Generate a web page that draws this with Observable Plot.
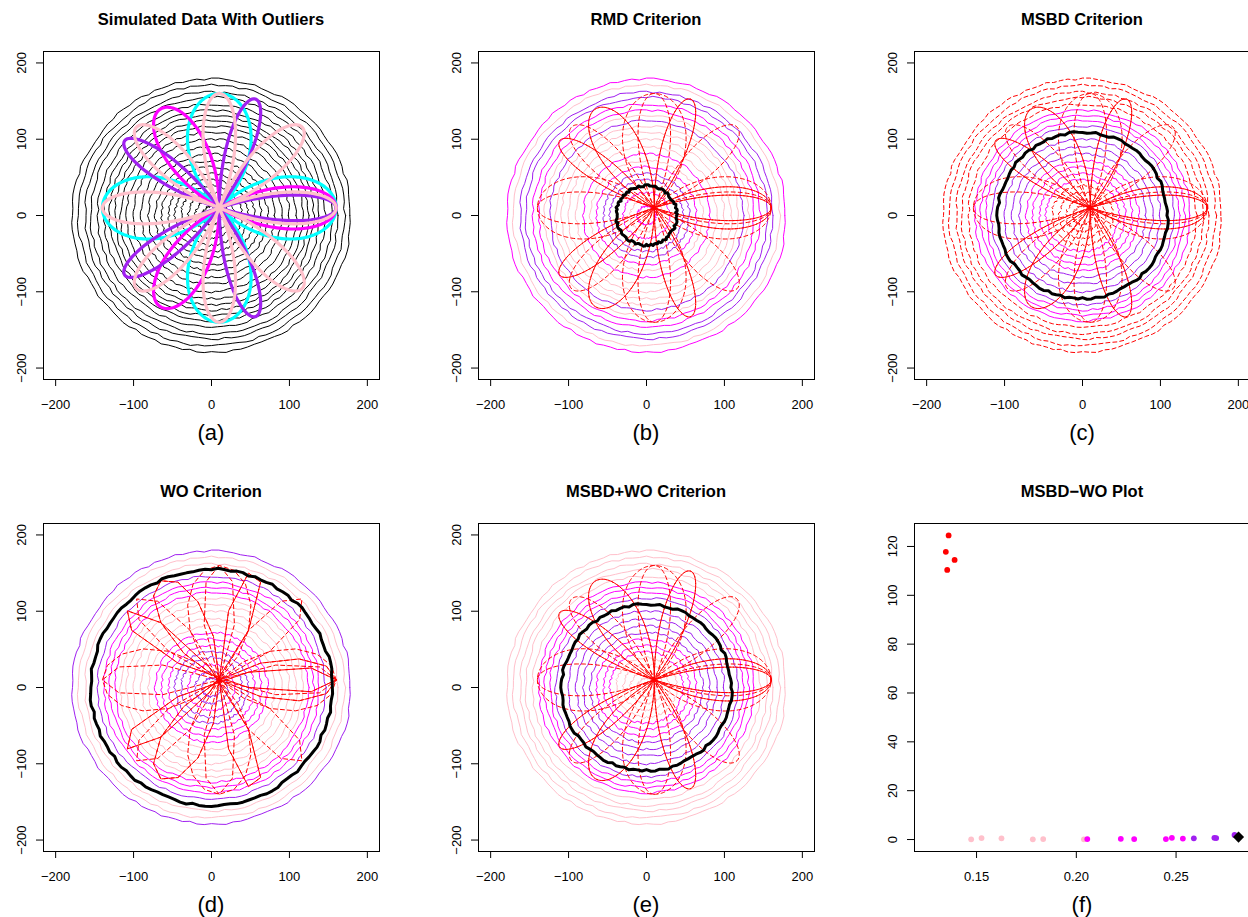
<!DOCTYPE html>
<html><head><meta charset="utf-8">
<script src="https://cdn.jsdelivr.net/npm/d3@7"></script>
<script src="https://cdn.jsdelivr.net/npm/@observablehq/plot@0.6"></script>
<style>
html,body{margin:0;padding:0;overflow:hidden;background:#fff}
#root{position:relative;width:1248px;height:917px;overflow:hidden;background:#fff;font-family:"Liberation Sans",Arial,Helvetica,sans-serif;color:#000}
.title{position:absolute;width:336px;text-align:center;font-weight:bold;font-size:16.5px;line-height:20px;white-space:nowrap}
.sub{position:absolute;width:336px;text-align:center;font-size:22px;line-height:26px}
.panel{position:absolute;width:436px;height:420px}
.panel svg{max-width:none !important;width:436px;height:420px;display:block}
</style></head><body><div id="root"></div>
<script>
// ---------------- data ----------------
// radii of the 21 wavy circles (inner -> outer)
const circleRadius = [12, 21, 30, 39, 47, 55, 64, 72, 81, 90, 100, 109, 117, 124, 131, 138, 146, 155, 162, 171, 179];
const circleCentre = [0, 0];
// small jitter of the circle outlines (units), read as a repeating pattern
const wiggle = [0.8, -1.2, 1.9, -0.4, 1.1, -2.0, 0.3, 1.6, -0.9, 2.0, -1.5, 0.2, 1.3, -0.7, -1.8, 0.9,
                1.9, -0.3, -1.1, 1.4, -2.1, 0.6, 1.0, -1.6, 0.4, 1.8, -0.8, -1.9, 1.2, 0.1, -1.4, 2.0,
                -0.5, 0.7, -2.0, 1.5, 0.0, -1.0, 1.7, -0.6, 2.1, -1.3, 0.5, -0.2, 1.6, -1.7, 0.9, -0.9];
// the four outlying rose curves
const roseColour = ["cyan", "magenta", "purple", "pink"];
const roseFreq = [2, 3, 5, 4];
const roseLength = [150, 150, 150, 150];
const roseCentre = [10, 10];

// colour of every circle (inner -> outer) in panels (b)-(e); "red" = flagged outlier, "black" = median
const colB = ["magenta","pink","magenta","black","purple","purple","magenta","pink","magenta","pink","pink",
              "pink","pink","purple","pink","magenta","magenta","purple","purple","pink","magenta"];
const colC = ["red","red","red","red","magenta","magenta","magenta","magenta","purple","purple","purple",
              "black","purple","magenta","magenta","magenta","red","red","red","red","red"];
const colD = ["purple","purple","magenta","purple","purple","magenta","magenta","magenta","pink","pink","pink",
              "pink","pink","magenta","magenta","magenta","purple","black","pink","pink","purple"];
const colE = ["pink","pink","pink","pink","magenta","magenta","magenta","purple","purple","purple","purple",
              "black","purple","magenta","magenta","magenta","pink","pink","pink","pink","pink"];

// panel (f): MSBD vs WO
const msbd = [0.1360, 0.1346, 0.1390, 0.1353,
              0.1473, 0.1525, 0.1625, 0.1782, 0.1834, 0.2038,
              0.2055, 0.2223, 0.2290, 0.2449, 0.2479, 0.2534,
              0.2589, 0.2692, 0.2701, 0.2793];
const wo   = [124.5, 117.8, 114.5, 110.4,
              0.1, 0.6, 0.5, 0.1, 0.2, 0.1,
              0.2, 0.3, 0.2, 0.2, 0.7, 0.4,
              0.5, 0.7, 0.6, 1.9];
const ptColour = ["red","red","red","red",
                  "pink","pink","pink","pink","pink","pink",
                  "magenta","magenta","magenta","magenta","magenta","magenta",
                  "purple","purple","purple","purple"];
const medianMSBD = [0.2813];
const medianWO = [1.0];

const curveTicks = [-200, -100, 0, 100, 200];
const fTicksX = [0.15, 0.20, 0.25];
const fTicksY = [0, 20, 40, 60, 80, 100, 120];
const titles = ["Simulated Data With Outliers", "RMD Criterion", "MSBD Criterion",
                "WO Criterion", "MSBD+WO Criterion", "MSBD\u2212WO Plot"];
const subLabels = ["(a)", "(b)", "(c)", "(d)", "(e)", "(f)"];

// R colour names -> hex
const rColour = {black: "#000000", red: "#FF0000", pink: "#FFC0CB", magenta: "#FF00FF", purple: "#A020F0", cyan: "#00FFFF"};

// ---------------- layout ----------------
const colX = [0, 435, 871], rowY = [0, 472];
const W = 436, H = 420, ML = 43, MR = 57, MT = 51, MB = 41;
const FONT = '"Liberation Sans", Arial, Helvetica, sans-serif';
const minus = s => String(s).replace("-", "\u2212");

// ---------------- geometry tables built from the arrays ----------------
function circleTable(i) {
  const n = 120, pts = [];
  for (let j = 0; j <= n; j++) {
    const t = 2 * Math.PI * j / n;
    const r = circleRadius[i] + 0.7 * wiggle[(((j % n) * 7) + 13 * i) % wiggle.length];
    pts.push({id: i, x: circleCentre[0] + r * Math.cos(t), y: circleCentre[1] + r * Math.sin(t)});
  }
  return pts;
}
function roseTable(k, n) {
  const pts = [];
  for (let j = 0; j <= n; j++) {
    const t = 2 * Math.PI * j / n;
    const r = roseLength[k] * Math.cos(roseFreq[k] * t);
    pts.push({id: "r" + k, x: roseCentre[0] + r * Math.cos(t), y: roseCentre[1] + r * Math.sin(t)});
  }
  return pts;
}
const allCircles = circleRadius.map((_, i) => circleTable(i));

function axisText(xt, yt, fmt) {
  return [
    Plot.text(xt, {x: d => d, text: d => fmt(d), frameAnchor: "bottom", dy: 25, lineAnchor: "middle", fontSize: 13}),
    Plot.text(yt, {y: d => d, text: d => fmt(d), frameAnchor: "left", dx: -22, rotate: -90,
                   textAnchor: "middle", lineAnchor: "middle", fontSize: 13})
  ];
}
function basePlot(xdom, ydom, xt, yt, marks) {
  return Plot.plot({
    width: W, height: H, marginLeft: ML, marginRight: MR, marginTop: MT, marginBottom: MB,
    style: {fontFamily: FONT, fontSize: "13px", background: "white", color: "black", overflow: "visible"},
    x: {domain: xdom, ticks: xt, tickSize: 7, tickFormat: () => "", label: null},
    y: {domain: ydom, ticks: yt, tickSize: 7, tickFormat: () => "", label: null},
    marks
  });
}
const XD = [-215.6, 215.6], YD = [-215, 215];

function panelA() {
  const marks = [];
  marks.push(Plot.line(allCircles.flat(), {x: "x", y: "y", z: "id", stroke: "black", strokeWidth: 1}));
  roseColour.forEach((c, k) => {
    marks.push(Plot.line(roseTable(k, 720), {x: "x", y: "y", stroke: rColour[c], strokeWidth: 3.2}));
  });
  marks.push(Plot.frame({stroke: "black", strokeWidth: 1}));
  marks.push(...axisText(curveTicks, curveTicks, minus));
  return basePlot(XD, YD, curveTicks, curveTicks, marks);
}
function panelCurves(cols, roseN) {
  const marks = [];
  for (const c of ["pink", "magenta", "purple"]) {
    const d = allCircles.filter((_, i) => cols[i] === c).flat();
    marks.push(Plot.line(d, {x: "x", y: "y", z: "id", stroke: rColour[c], strokeWidth: 1}));
  }
  const red = allCircles.filter((_, i) => cols[i] === "red").flat();
  marks.push(Plot.line(red, {x: "x", y: "y", z: "id", stroke: rColour.red, strokeWidth: 1, strokeDasharray: "4,3"}));
  const roses = roseColour.map((_, k) => roseTable(k, roseN)).flat();
  marks.push(Plot.line(roses, {x: "x", y: "y", z: "id", stroke: rColour.red, strokeWidth: 1, strokeDasharray: "4,3"}));
  const med = allCircles.filter((_, i) => cols[i] === "black").flat();
  marks.push(Plot.line(med, {x: "x", y: "y", z: "id", stroke: "black", strokeWidth: 3}));
  marks.push(Plot.frame({stroke: "black", strokeWidth: 1}));
  marks.push(...axisText(curveTicks, curveTicks, minus));
  return basePlot(XD, YD, curveTicks, curveTicks, marks);
}
function panelF() {
  const pts = msbd.map((m, i) => ({m, w: wo[i], c: ptColour[i]}));
  const marks = [];
  for (const c of ["red", "pink", "magenta", "purple"]) {
    marks.push(Plot.dot(pts.filter(p => p.c === c), {x: "m", y: "w", fill: rColour[c], stroke: null, r: 2.9}));
  }
  marks.push(Plot.dot(medianMSBD.map((m, i) => ({m, w: medianWO[i]})),
    {x: "m", y: "w", symbol: "diamond2", fill: "black", stroke: null, r: 5}));
  marks.push(Plot.frame({stroke: "black", strokeWidth: 1}));
  marks.push(...axisText(fTicksX, fTicksY, d => (fTicksX.includes(d) ? d3.format(".2f")(d) : String(d))));
  return basePlot([0.1189, 0.2873], [-4.9, 129.4], fTicksX, fTicksY, marks);
}

// ---------------- render ----------------
const root = document.getElementById("root");
const charts = [panelA(), panelCurves(colB, 720), panelCurves(colC, 720),
                panelCurves(colD, 48), panelCurves(colE, 720), panelF()];
charts.forEach((svg, p) => {
  const cx = colX[p % 3], cy = rowY[Math.floor(p / 3)];
  const holder = document.createElement("div");
  holder.className = "panel";
  holder.style.left = cx + "px";
  holder.style.top = cy + "px";
  holder.appendChild(svg);
  root.appendChild(holder);
  const t = document.createElement("div");
  t.className = "title";
  t.style.left = (cx + ML) + "px";
  t.style.top = (cy + 9) + "px";
  t.textContent = titles[p];
  root.appendChild(t);
  const s = document.createElement("div");
  s.className = "sub";
  s.style.left = (cx + ML) + "px";
  s.style.top = (cy + 420) + "px";
  s.textContent = subLabels[p];
  root.appendChild(s);
});
</script></body></html>
